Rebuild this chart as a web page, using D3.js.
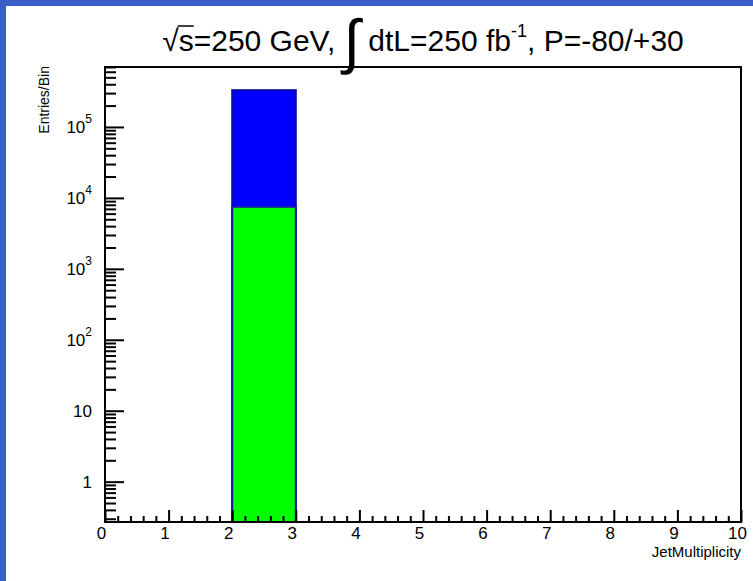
<!DOCTYPE html>
<html>
<head>
<meta charset="utf-8">
<script src="https://cdn.jsdelivr.net/npm/d3@7"></script>
<style>
  body { margin: 0; background: #fff; }
  svg text { font-family: "Liberation Sans", Arial, sans-serif; fill: #000; }
</style>
</head>
<body>
<svg id="chart" width="753" height="581"></svg>
<script>
// histogram contents (stacked, log y)
const binLow = [2];
const binHigh = [3];
const totalCounts = [330000];   // blue, drawn first (stack total)
const greenCounts = [7500];     // green, drawn on top
const xTickValues = [0, 1, 2, 3, 4, 5, 6, 7, 8, 9, 10];
const yDecades = [1, 10, 100, 1000, 10000, 100000];
const xTitle = "JetMultiplicity";
const yTitle = "Entries/Bin";

const width = 753, height = 581;
const margin = {left: 105, right: 12, top: 67, bottom: 59};

const svg = d3.select("#chart");

// blue canvas border on top and left
svg.append("rect").attr("x", 0).attr("y", 0).attr("width", width).attr("height", 6).attr("fill", "#385fc8");
svg.append("rect").attr("x", 0).attr("y", 0).attr("width", 6).attr("height", height).attr("fill", "#385fc8");

const xScale = d3.scaleLinear()
    .domain([0, 10])
    .range([margin.left, width - margin.right]);
const yScale = d3.scaleLog()
    .domain([0.27, 7.0e5])
    .range([height - margin.bottom, margin.top]);

const x0 = xScale.range()[0], x1 = xScale.range()[1];
const yB = yScale.range()[0], yT = yScale.range()[1];

// bars
const bars = binLow.map((lo, i) => ({lo: lo, hi: binHigh[i], total: totalCounts[i], green: greenCounts[i]}));

svg.selectAll("rect.total").data(bars).enter().append("rect")
    .attr("class", "total")
    .attr("x", d => xScale(d.lo))
    .attr("width", d => xScale(d.hi) - xScale(d.lo))
    .attr("y", d => yScale(d.total))
    .attr("height", d => yB - yScale(d.total))
    .attr("fill", "#0000ff")
    .attr("stroke", "#0c0ca0")
    .attr("stroke-width", 2);

svg.selectAll("rect.green").data(bars).enter().append("rect")
    .attr("class", "green")
    .attr("x", d => xScale(d.lo))
    .attr("width", d => xScale(d.hi) - xScale(d.lo))
    .attr("y", d => yScale(d.green))
    .attr("height", d => yB - yScale(d.green))
    .attr("fill", "#00ff00")
    .attr("stroke", "#1616b0")
    .attr("stroke-width", 2);

// frame
svg.append("rect")
    .attr("x", x0).attr("y", yT)
    .attr("width", x1 - x0).attr("height", yB - yT)
    .attr("fill", "none").attr("stroke", "#000").attr("stroke-width", 2);

// x axis: major ticks inward, minor every 0.2
const xMinor = d3.range(0, 10.001, 0.2).filter(v => Math.abs(v - Math.round(v)) > 1e-6);
const xAxisMajor = d3.axisBottom(xScale).tickValues(xTickValues).tickSize(-12).tickFormat(d3.format("d"));
const xAxisMinor = d3.axisBottom(xScale).tickValues(xMinor).tickSize(-6).tickFormat("");

const gx = svg.append("g").attr("transform", "translate(0," + yB + ")");
gx.call(xAxisMajor);
gx.append("g").call(xAxisMinor);
gx.selectAll(".domain").remove();
gx.selectAll("line").attr("stroke", "#000").attr("stroke-width", 2);
gx.selectAll("text")
    .attr("font-size", 17)
    .attr("font-family", "Liberation Sans, Arial, sans-serif")
    .attr("dx", -4)
    .attr("y", 5)
    .attr("dy", "0.71em");

// y axis: log, majors at decades, minors 2..9
let yMinor = [];
d3.range(-1, 6).forEach(e => {
  d3.range(2, 10).forEach(m => {
    const v = m * Math.pow(10, e);
    if (v >= yScale.domain()[0] && v <= yScale.domain()[1]) yMinor.push(v);
  });
});
const yAxisMajor = d3.axisLeft(yScale).tickValues(yDecades).tickSize(-19).tickFormat("");
const yAxisMinor = d3.axisLeft(yScale).tickValues(yMinor).tickSize(-11).tickFormat("");
const gy = svg.append("g").attr("transform", "translate(" + x0 + ",0)");
gy.call(yAxisMajor);
gy.append("g").call(yAxisMinor);
gy.selectAll(".domain").remove();
gy.selectAll("line").attr("stroke", "#000").attr("stroke-width", 2);

// y tick labels: 1, 10, then 10^n
const yLab = svg.append("g");
yDecades.forEach(v => {
  const e = Math.round(Math.log10(v));
  const t = yLab.append("text")
      .attr("x", x0 - 13)
      .attr("y", yScale(v) + 6)
      .attr("text-anchor", "end")
      .attr("font-size", 17);
  if (e < 2) {
    t.text(String(v));
  } else {
    t.append("tspan").text("10");
    t.append("tspan").attr("dy", -10).attr("font-size", 12).text(String(e));
  }
});

// axis titles
svg.append("text")
    .attr("x", x1)
    .attr("y", 557)
    .attr("text-anchor", "end")
    .attr("font-size", 15)
    .text(xTitle);

svg.append("text")
    .attr("transform", "translate(49," + (yT - 1) + ") rotate(-90)")
    .attr("text-anchor", "end")
    .attr("font-size", 14)
    .text(yTitle);

// title, laid out piece by piece
const titleParts = [
  {t: "\u221A", size: 30},
  {t: "s", size: 30, over: true},
  {t: "=250 GeV, ", size: 30},
  {t: "\u222B", size: 60, dy: 11},
  {t: " dtL=250 fb", size: 30},
  {t: "-1", size: 18, dy: -14},
  {t: ", P=-80/+30", size: 30}
];
const titleBase = 51;
const gt = svg.append("g");
let cx = 0;
const placed = titleParts.map(p => {
  const el = gt.append("text")
      .attr("x", cx)
      .attr("y", titleBase + (p.dy || 0))
      .attr("font-size", p.size)
      .attr("xml:space", "preserve")
      .style("white-space", "pre")
      .text(p.t);
  const w = el.node().getComputedTextLength();
  const item = {el: el, x: cx, w: w, p: p};
  cx += w;
  return item;
});
const titleStart = (x0 + x1) / 2 - cx / 2;
gt.attr("transform", "translate(" + titleStart + ",0)");
placed.filter(d => d.p.over).forEach(d => {
  gt.append("line")
      .attr("x1", d.x - 1).attr("x2", d.x + d.w)
      .attr("y1", titleBase - 25).attr("y2", titleBase - 25)
      .attr("stroke", "#000").attr("stroke-width", 1.5);
});
</script>
</body>
</html>
